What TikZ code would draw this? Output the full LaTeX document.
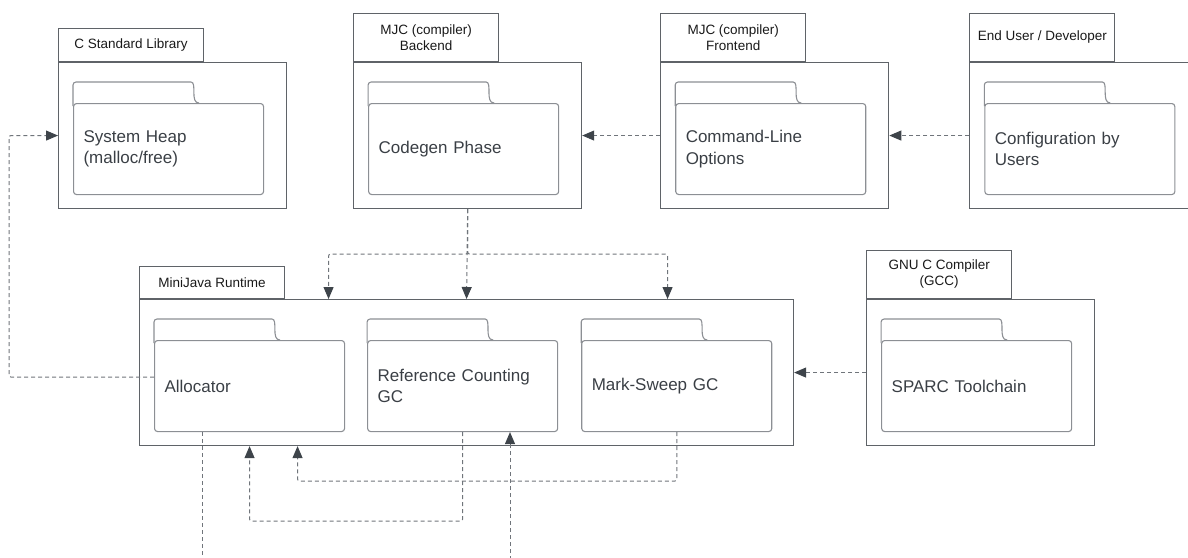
\documentclass[tikz,border=0pt]{standalone}
\usepackage{fontspec}
\setmainfont{Liberation Sans}
\usetikzlibrary{arrows.meta, positioning}
\definecolor{boxline}{RGB}{95,99,104}
\definecolor{folderline}{RGB}{140,143,148}
\definecolor{depline}{RGB}{112,117,123}
\definecolor{tipfill}{RGB}{62,68,74}
\definecolor{labeltext}{RGB}{58,63,69}
\definecolor{tabtext}{RGB}{25,25,25}

\begin{document}
\begin{tikzpicture}[x=1pt, y=-1pt,
      >={Triangle[length=12pt, width=10pt, color=tipfill]},
      pkgbody/.style={draw=boxline, line width=1.1pt, minimum width=228pt,
                      minimum height=146pt, inner sep=0pt, anchor=north west},
      pkgtab/.style={draw=boxline, line width=1.1pt, minimum width=145pt, inner sep=0pt,
                     align=center, anchor=south west, text=tabtext,
                     font=\fontsize{13.5}{16}\selectfont},
      folder/.style={draw=folderline, line width=1.1pt, rounded corners=3pt,
                     text width=170pt, inner xsep=10pt, inner ysep=0pt, minimum height=91pt,
                     align=left, text=labeltext, font=\fontsize{17}{21.5}\selectfont},
      foldertab/.style={draw=folderline, line width=1.1pt},
      dep/.style={draw=depline, line width=1pt, dash pattern=on 4pt off 3pt,
                  rounded corners=2pt}]

    \useasboundingbox (0,0) rectangle (1188,557);

    % packages
    \node[pkgbody] (cstd) at (58,62) {};
    \node[pkgtab, minimum height=33pt] (cstdtab) at (cstd.north west) {C Standard Library};
    \node[pkgbody, right=66pt of cstd] (back) {};
    \node[pkgtab, minimum height=48pt] (backtab) at (back.north west) {MJC (compiler)\\Backend};
    \node[pkgbody, right=78pt of back] (front) {};
    \node[pkgtab, minimum height=48pt] (fronttab) at (front.north west) {MJC (compiler)\\Frontend};
    \node[pkgbody, right=80pt of front] (user) {};
    \node[pkgtab, minimum height=48pt] (usertab) at (user.north west) {End User / Developer};

    \node[pkgbody, minimum width=654pt] (rt) at (139,299) {};
    \node[pkgtab, minimum height=32pt] (rttab) at (rt.north west) {MiniJava Runtime};
    \node[pkgbody, right=72pt of rt] (gcc) {};
    \node[pkgtab, minimum height=48pt] (gcctab) at (gcc.north west) {GNU C Compiler\\(GCC)};

    % folders
    \node[folder, below right=41pt and 15pt of cstd.north west] (heap) {System Heap\\(malloc/free)};
    \node[folder, below right=41pt and 15pt of back.north west] (codegen) {Codegen Phase};
    \node[folder, below right=41pt and 15pt of front.north west] (cli) {Command-Line\\Options};
    \node[folder, below right=41pt and 15pt of user.north west] (config) {Configuration by\\Users};
    \node[folder, below right=41pt and 15pt of rt.north west] (alloc) {Allocator};
    \node[folder, right=22pt of alloc] (refc) {Reference Counting\\GC};
    \node[folder, right=23pt of refc] (msgc) {Mark-Sweep GC};
    \node[folder, below right=41pt and 15pt of gcc.north west] (sparc) {SPARC Toolchain};

    \foreach \f in {heap, codegen, cli, config, alloc, refc, msgc, sparc}
      \draw[foldertab] ([yshift=-3pt]\f.north west) [rounded corners=3pt] -- ++(0,-24)
        -- ++(115,0) [sharp corners] to[out=0, in=180] ++(11,21);

    % dependencies
    \coordinate (exitA) at (202,560);
    \coordinate (exitB) at (510,560);

    \draw[dep, ->] (user.west) -- (front.east);
    \draw[dep, ->] (front.west) -- (back.east);
    \draw[dep, ->] (gcc.west) -- (rt.east);
    \draw[dep, ->] ([yshift=9pt]alloc.west) -- ++(-145,0) |- (cstd.west);

    \draw[dep, ->] (back.south) -- (rt.north);
    \draw[dep, ->] (back.south) -- ++(0,45) -| ([xshift=-138pt]rt.north);
    \draw[dep, ->] (back.south) -- ++(0,45) -| ([xshift=201pt]rt.north);

    \draw[dep] (alloc.south -| exitA) -- (exitA);
    \draw[dep, ->] (exitB) -- (exitB |- refc.south);
    \draw[dep, ->] (refc.south) -- ++(0,89) -| (alloc.south |- rt.south);
    \draw[dep, ->] (msgc.south) -- ++(0,49) -| ([xshift=48pt]alloc.south |- rt.south);
  \end{tikzpicture}
\end{document}
